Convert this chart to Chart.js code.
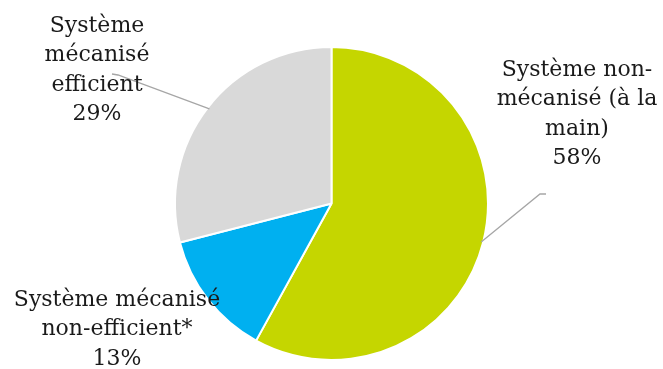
<!DOCTYPE html>
<html>
<head>
<meta charset="utf-8">
<script src="https://cdn.jsdelivr.net/npm/chart.js@4"></script>
<style>
  html, body { margin: 0; padding: 0; background: #fff; }
  #wrap { width: 663px; height: 369px; position: relative; }
</style>
</head>
<body>
<div id="wrap"><canvas id="myChart"></canvas></div>
<script>
const categories = ['Système non-mécanisé (à la main)', 'Système mécanisé non-efficient*', 'Système mécanisé efficient']
const values = [58, 13, 29]
const colors = ['#c5d600', '#00b0f0', '#d9d9d9']

// label text lines, and where they go on the page
const labelLines = [
  ['Système non-', 'mécanisé (à la', 'main)', '58%'],
  ['Système mécanisé', 'non-efficient*', '13%'],
  ['Système', 'mécanisé', 'efficient', '29%']
]
const labelPos = [
  { x: 577, y: 70 },
  { x: 117, y: 300 },
  { x: 97, y: 26 }
]
// leader lines: [label end, elbow] ; the third point is on the arc
const leaders = [
  { from: [546, 194], elbow: [540, 194] },
  null,
  { from: [112, 74], elbow: [118, 75] }
]

const ctx = document.getElementById('myChart')

const labelPlugin = {
  id: 'labelPlugin',
  afterDraw(chart) {
    const c = chart.ctx
    const meta = chart.getDatasetMeta(0)
    c.save()
    meta.data.forEach((arc, i) => {
      const lead = leaders[i]
      if (lead) {
        const mid = (arc.startAngle + arc.endAngle) / 2
        const r = arc.outerRadius
        const px = arc.x + Math.cos(mid) * (r - 2)
        const py = arc.y + Math.sin(mid) * (r - 2)
        c.strokeStyle = '#a6a6a6'
        c.lineWidth = 1.3
        c.beginPath()
        c.moveTo(lead.from[0], lead.from[1])
        c.lineTo(lead.elbow[0], lead.elbow[1])
        c.lineTo(px, py)
        c.stroke()
      }
      c.fillStyle = '#1a1a1a'
      c.font = '22px "DejaVu Serif", "Liberation Serif", serif'
      c.textAlign = 'center'
      c.textBaseline = 'middle'
      labelLines[i].forEach((t, k) => {
        c.fillText(t, labelPos[i].x, labelPos[i].y + k * 29.5)
      })
    })
    c.restore()
  }
}

new Chart(ctx, {
  type: 'pie',
  data: {
    labels: categories,
    datasets: [
      {
        data: values,
        backgroundColor: colors,
        borderColor: '#ffffff',
        borderWidth: 2
      }
    ]
  },
  options: {
    responsive: true,
    maintainAspectRatio: false,
    animation: false,
    layout: { padding: { top: 46, bottom: 8 } },
    plugins: {
      legend: { display: false },
      tooltip: { enabled: false }
    }
  },
  plugins: [labelPlugin]
})
</script>
</body>
</html>
